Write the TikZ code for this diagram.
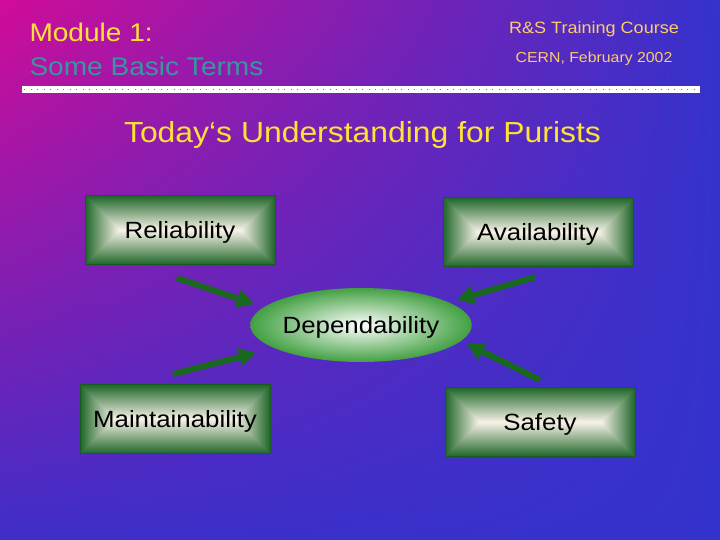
\documentclass[tikz,border=0pt]{standalone}
\usepackage{fontspec}
\setmainfont[FakeStretch=1.1]{Liberation Sans}
\usetikzlibrary{positioning,shapes.geometric,shadings,arrows.meta}

\definecolor{slidemagenta}{RGB}{208,12,152}
\definecolor{slideblue}{RGB}{52,50,204}
\definecolor{slidepurple}{RGB}{62,46,200}
\definecolor{headyellow}{RGB}{255,226,56}
\definecolor{headteal}{RGB}{56,150,160}
\definecolor{headorange}{RGB}{255,204,104}
\definecolor{boxedge}{RGB}{22,92,30}
\definecolor{arrowgreen}{RGB}{24,104,30}
\definecolor{ovalgreen}{RGB}{66,160,66}
\definecolor{dotpurple}{RGB}{150,96,170}

% white line in the middle, dark green at the border
\pgfdeclarefunctionalshading{boxglow}{\pgfpoint{-50bp}{-50bp}}{\pgfpoint{50bp}{50bp}}{}{
  abs 25 div 1 exch sub
  exch abs 25 div 1 exch sub 2.75 mul
  2 copy gt {exch} if pop
  dup 1 gt {pop 1} if
  dup 0 lt {pop 0} if
  dup 0.85 mul 0.12 add
  exch dup 0.55 mul 0.40 add
  exch 0.75 mul 0.16 add
}

\begin{document}
\begin{tikzpicture}[x=1pt, y=1pt,
boxnode/.style={rectangle, draw=boxedge, line width=1pt, shade, shading=boxglow, minimum width=190pt, minimum height=69pt, inner sep=0pt, text height=17pt, text depth=0pt, font=\fontsize{23.5}{28}\selectfont},
ovalnode/.style={ellipse, inner color=white, outer color=ovalgreen, minimum width=212pt, minimum height=74pt, inner sep=0pt, text height=17pt, text depth=0pt, font=\fontsize{23.5}{28}\selectfont},
greenarrow/.style={draw=arrowgreen, line width=6pt, -{Triangle[length=17pt, width=18pt]}},
]
\useasboundingbox (0,0) rectangle (720,540);
\shade[shading=bilinear interpolation, upper left=slidemagenta, upper right=slideblue, lower left=slidepurple, lower right=slideblue] (0,0) rectangle (720,540);

%Heading
\node[anchor=base west, text=headyellow, font=\fontsize{25.5}{30}\selectfont] (module) at (26,498) {Module 1:};
\node[anchor=base west, text=headteal, font=\fontsize{25.5}{30}\selectfont] (terms) at (26,464) {Some Basic Terms};
\node[anchor=base, text=headorange, font=\fontsize{16.4}{20}\selectfont] (course) at (594,506) {R\&S Training Course};
\node[anchor=base, text=headorange, font=\fontsize{14.4}{18}\selectfont] (cern) at (594,477) {CERN, February 2002};
\fill[white] (22,447) rectangle (700,454);
\draw[dotpurple, line width=0.8pt, dash pattern=on 0.8pt off 5.7pt] (24,450.5) -- (698,450.5);
\node[anchor=base, text=headyellow, font=\fontsize{29}{34}\selectfont] (title) at (362.5,397) {Today‘s Understanding for Purists};

%Nodes
\node[ovalnode] (dep) at (361,215) {Dependability};
\node[boxnode] (rel) at (180,310) {Reliability};
\node[boxnode] (avail) at (538,308) {Availability};
\node[boxnode] (maint) at (175,121) {Maintainability};
\node[boxnode] (safety) at (540,118) {Safety};
\node[coordinate, below=13pt of rel, xshift=-3pt] (reltail) {};
\node[coordinate, below=10pt of avail, xshift=-3pt] (availtail) {};
\node[coordinate, above=10pt of maint, xshift=-2pt] (mainttail) {};
\node[coordinate, above=7pt of safety] (safetytail) {};
\node[coordinate, above left=21pt and 107pt of dep.center] (reltip) {};
\node[coordinate, above right=25pt and 96pt of dep.center] (availtip) {};
\node[coordinate, below left=28pt and 105pt of dep.center] (mainttip) {};
\node[coordinate, below right=19pt and 106pt of dep.center] (safetytip) {};

%Lines
\draw[greenarrow] (reltail) -- (reltip);
\draw[greenarrow] (availtail) -- (availtip);
\draw[greenarrow] (mainttail) -- (mainttip);
\draw[greenarrow] (safetytail) -- (safetytip);

\end{tikzpicture}
\end{document}
